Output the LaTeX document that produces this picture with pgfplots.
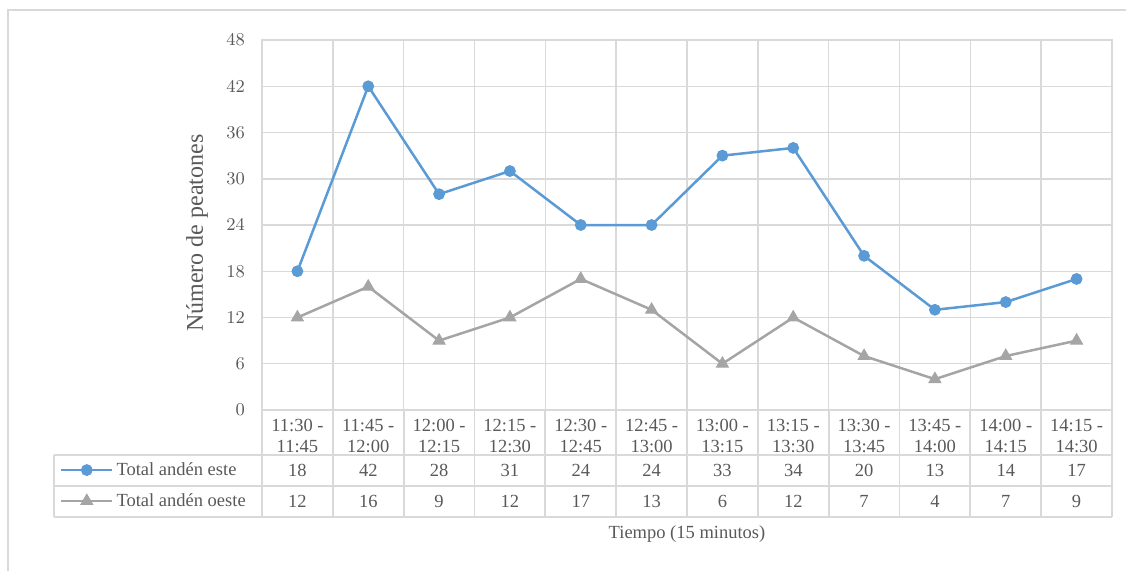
\documentclass[border=0pt]{standalone}
\usepackage{pgfplots}
\pgfplotsset{compat=1.18}
\usepackage{fontspec}
\setmainfont{Liberation Serif}
\definecolor{txt}{HTML}{595959}
\definecolor{gridc}{HTML}{D9D9D9}
\definecolor{este}{HTML}{5B9BD5}
\definecolor{oeste}{HTML}{A5A5A5}
\newcommand{\chartfont}{\fontsize{9.25}{10.5}\selectfont}

\begin{document}
\begin{tikzpicture}
\path[use as bounding box] (0,0) rectangle (563pt,-285.5pt);
\draw[gridc, line width=0.6pt] (4pt,-285.5pt) -- (4pt,-5pt) -- (563pt,-5pt);
\begin{axis}[
  at={(131pt,-205pt)}, anchor=south west,
  scale only axis, width=425pt, height=185pt,
  xmin=0, xmax=12, ymin=0, ymax=48,
  ytick={0,6,...,48},
  xtick={0.5,1.5,...,11.5},
  xticklabels={{11:30 -\\11:45},{11:45 -\\12:00},{12:00 -\\12:15},{12:15 -\\12:30},
    {12:30 -\\12:45},{12:45 -\\13:00},{13:00 -\\13:15},{13:15 -\\13:30},
    {13:30 -\\13:45},{13:45 -\\14:00},{14:00 -\\14:15},{14:15 -\\14:30}},
  minor xtick={0,1,...,12},
  xminorgrids, ymajorgrids,
  grid style={gridc, line width=0.75pt},
  minor grid style={gridc, line width=0.75pt},
  major tick length=0pt, minor tick length=0pt,
  axis line style={gridc, line width=0.75pt},
  tick style={draw=none},
  xticklabel style={align=center, text=txt, font=\chartfont, yshift=-1pt},
  yticklabel style={text=txt, font=\chartfont, xshift=-5pt},
  ylabel={Número de peatones},
  ylabel style={at={(axis description cs:-0.0765,0.478)}, anchor=center, text=txt, font=\fontsize{12}{14}\selectfont},
  xlabel={Tiempo (15 minutos)},
  xlabel style={at={(axis description cs:0.5,-0.335)}, anchor=center, text=txt, font=\chartfont},
  legend style={at={(axis description cs:-0.2376,-0.138)}, anchor=north west,
    draw=none, fill=none, inner sep=0pt, outer sep=0pt,
    nodes={inner sep=0pt, text height=7pt, text depth=2pt, text=txt, font=\chartfont},
    row sep=6.5pt, column sep=1.5pt},
  legend cell align=left,
  legend image code/.code={\draw[mark repeat=2, mark phase=2, #1]
    plot coordinates {(0pt,0pt) (12.75pt,0pt) (25.5pt,0pt)};},
]
\addplot[este, line width=1.25pt, mark=*, mark size=2.7pt, mark options={solid, line width=0.5pt}]
  coordinates {(0.5,18) (1.5,42) (2.5,28) (3.5,31) (4.5,24) (5.5,24)
               (6.5,33) (7.5,34) (8.5,20) (9.5,13) (10.5,14) (11.5,17)};
\addlegendentry{Total andén este}
\addplot[oeste, line width=1.25pt, mark=triangle*, mark size=3.4pt, mark options={solid, line width=0.5pt}]
  coordinates {(0.5,12) (1.5,16) (2.5,9) (3.5,12) (4.5,17) (5.5,13)
               (6.5,6) (7.5,12) (8.5,7) (9.5,4) (10.5,7) (11.5,9)};
\addlegendentry{Total andén oeste}
\end{axis}
% data table under the axis
\begin{scope}[x=0.5pt, y=-0.5pt]
  \draw[gridc, line width=0.85pt] (54,455) -- (1112,455) (54,486) -- (1112,486)
    (54,517) -- (1112,517) (54,455) -- (54,517);
  \foreach \k in {0,...,12}
    \draw[gridc, line width=0.85pt] ({262+850*\k/12},410) -- ({262+850*\k/12},517);
  \foreach \v [count=\i from 0] in {18,42,28,31,24,24,33,34,20,13,14,17}
    \node[text=txt, font=\chartfont] at ({262+850*(\i+0.5)/12},470.5) {\v};
  \foreach \v [count=\i from 0] in {12,16,9,12,17,13,6,12,7,4,7,9}
    \node[text=txt, font=\chartfont] at ({262+850*(\i+0.5)/12},501.5) {\v};
\end{scope}
\end{tikzpicture}
\end{document}
